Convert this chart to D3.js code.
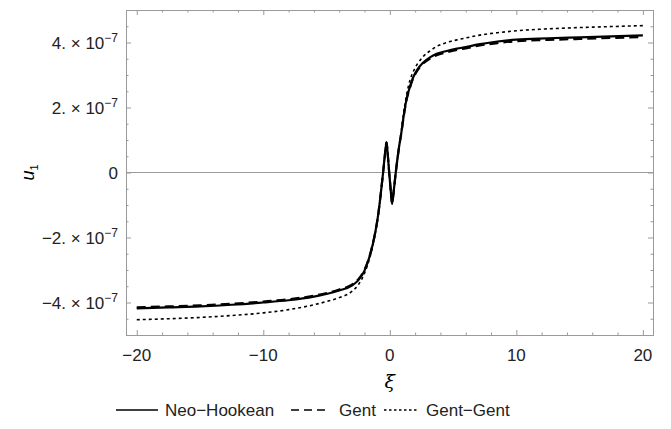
<!DOCTYPE html>
<html>
  <body style="margin:0;background:#fff">
    <script src="https://cdn.jsdelivr.net/npm/d3@7"></script>
    <script>
      const width = 671;
      const height = 429;

      // xi grid shared by all three curves
      const xi = [-20, -17.5, -15, -12.5, -10, -8, -6, -5, -4, -3, -2.5, -2, -1.5, -1.2, -0.9, -0.7, -0.53, -0.4, -0.26, -0.15, -0.05,
        0.05, 0.18, 0.3, 0.47, 0.7, 0.92, 1.1, 1.32, 1.6, 1.85, 2.2, 2.6, 3.2, 3.7, 4.5, 5.3, 6, 7, 8.5, 10, 12.5, 15, 17.5, 20];
      // u1 values in units of 1e-7
      const neoHookean = [-4.18, -4.15, -4.12, -4.07, -4.0, -3.93, -3.82, -3.74, -3.63, -3.48, -3.32, -3.02, -2.45, -1.95, -1.25, -0.6, 0, 0.5, 0.93, 0.5, 0,
        -0.45, -0.96, -0.6, 0, 0.7, 1.25, 1.75, 2.25, 2.65, 2.93, 3.18, 3.37, 3.55, 3.65, 3.74, 3.81, 3.86, 3.94, 4.03, 4.09, 4.13, 4.16, 4.19, 4.22];
      const gent = [-4.15, -4.12, -4.09, -4.04, -3.97, -3.9, -3.79, -3.71, -3.6, -3.45, -3.29, -2.99, -2.43, -1.93, -1.24, -0.6, 0, 0.5, 0.93, 0.5, 0,
        -0.45, -0.96, -0.6, 0, 0.7, 1.24, 1.73, 2.23, 2.62, 2.9, 3.15, 3.34, 3.51, 3.61, 3.7, 3.77, 3.82, 3.9, 3.98, 4.04, 4.08, 4.11, 4.14, 4.17];
      const gentGent = [-4.53, -4.5, -4.46, -4.4, -4.32, -4.22, -4.07, -3.97, -3.85, -3.66, -3.46, -3.1, -2.5, -1.98, -1.27, -0.6, 0, 0.5, 0.93, 0.5, 0,
        -0.45, -0.96, -0.6, 0, 0.72, 1.3, 1.85, 2.38, 2.85, 3.1, 3.35, 3.55, 3.75, 3.88, 4.0, 4.08, 4.14, 4.22, 4.3, 4.36, 4.42, 4.46, 4.49, 4.52];

      const seriesNames = ['Neo\u2212Hookean', 'Gent', 'Gent\u2212Gent'];
      const xTicks = [-20, -10, 0, 10, 20];
      const yTicks = [-4, -2, 0, 2, 4];
      const yTickLabels = ['\u22124.', '\u22122.', '0', '2.', '4.'];

      const mLeft = 126, mRight = 653, mTop = 10, mBottom = 335;
      const grey = '#9a9a9a';
      const font = 'Liberation Sans, Arial, sans-serif';

      const svg = d3.select('body').append('svg')
        .attr('width', width)
        .attr('height', height)
        .style('font-family', font);

      const x = d3.scaleLinear().domain([-20.85, 20.8]).range([mLeft, mRight]);
      const y = d3.scaleLinear().domain([-5, 5]).range([mBottom, mTop]);

      // frame ticks, pointing inwards, on all four sides
      const xMinor = d3.range(-20, 20.01, 2).filter(v => v % 10 !== 0);
      const yMinor = d3.range(-5, 5.01, 0.5).filter(v => Math.abs(v % 2) > 1e-9);

      function frameAxis(axisFn, scale, transform, major, minor) {
        const g = svg.append('g').attr('transform', transform);
        g.call(axisFn(scale).tickValues(minor).tickSize(-2.5).tickFormat(''));
        const g2 = svg.append('g').attr('transform', transform);
        g2.call(axisFn(scale).tickValues(major).tickSize(-5).tickFormat(''));
        [g, g2].forEach(el => {
          el.selectAll('.domain').attr('stroke', grey);
          el.selectAll('.tick line').attr('stroke', grey);
        });
      }
      frameAxis(d3.axisBottom, x, `translate(0,${mBottom})`, xTicks, xMinor);
      frameAxis(d3.axisTop, x, `translate(0,${mTop})`, xTicks, xMinor);
      frameAxis(d3.axisLeft, y, `translate(${mLeft},0)`, yTicks, yMinor);
      frameAxis(d3.axisRight, y, `translate(${mRight},0)`, yTicks, yMinor);

      // zero line
      svg.append('line')
        .attr('x1', mLeft).attr('x2', mRight)
        .attr('y1', y(0)).attr('y2', y(0))
        .attr('stroke', grey).attr('stroke-width', 1.2);

      // x tick labels
      svg.selectAll('.xlab').data(xTicks).enter().append('text')
        .attr('x', d => x(d))
        .attr('y', mBottom + 26)
        .attr('text-anchor', 'middle')
        .attr('font-size', 17)
        .attr('fill', '#222')
        .text(d => d < 0 ? '\u2212' + Math.abs(d) : d);

      // y tick labels
      const ylab = svg.selectAll('.ylab').data(yTicks).enter().append('text')
        .attr('x', mLeft - 8)
        .attr('y', d => y(d) + 6)
        .attr('text-anchor', 'end')
        .attr('font-size', 17)
        .attr('fill', '#222');
      ylab.each(function (d, i) {
        const t = d3.select(this);
        if (d === 0) { t.text('0'); return; }
        t.append('tspan').text(yTickLabels[i] + ' \u00d7 10');
        t.append('tspan').attr('dy', -7).attr('font-size', 12).text('\u22127');
      });

      // axis titles
      svg.append('text')
        .attr('x', x(0)).attr('y', mBottom + 53)
        .attr('text-anchor', 'middle')
        .attr('font-size', 19).attr('font-style', 'italic')
        .attr('font-family', 'DejaVu Serif, serif')
        .text('\u03be');

      const yt = svg.append('text')
        .attr('transform', `translate(34,${y(0)}) rotate(-90)`)
        .attr('text-anchor', 'middle')
        .attr('font-size', 18);
      yt.append('tspan').attr('font-style', 'italic').text('u');
      yt.append('tspan').attr('dy', 4).attr('font-size', 11).text('1');

      // curves
      const styles = [
        { data: neoHookean, dash: null, w: 2.2 },
        { data: gent, dash: '9,5', w: 2.2 },
        { data: gentGent, dash: '3,3', w: 1.6 },
      ];
      const line = d3.line()
        .x((d, i) => x(xi[i]))
        .y(d => y(d))
        .curve(d3.curveMonotoneX);
      svg.selectAll('.curve').data(styles).enter().append('path')
        .attr('d', d => line(d.data))
        .attr('fill', 'none')
        .attr('stroke', '#000')
        .attr('stroke-width', d => d.w)
        .attr('stroke-dasharray', d => d.dash);

      // legend
      const legendItems = [
        { x0: 116, x1: 158, tx: 165 },
        { x0: 291, x1: 326, tx: 339 },
        { x0: 384, x1: 419, tx: 426 },
      ];
      const lg = svg.selectAll('.legend').data(legendItems).enter().append('g');
      lg.append('line')
        .attr('x1', d => d.x0).attr('x2', d => d.x1)
        .attr('y1', 410).attr('y2', 410)
        .attr('stroke', '#000')
        .attr('stroke-width', (d, i) => i === 2 ? 1.3 : 1.6)
        .attr('stroke-dasharray', (d, i) => styles[i].dash === null ? null : (i === 1 ? '8,5' : '2.5,2.5'));
      lg.append('text')
        .attr('x', d => d.tx).attr('y', 416)
        .attr('font-size', 17)
        .attr('fill', '#222')
        .text((d, i) => seriesNames[i]);
    </script>
  </body>
</html>
